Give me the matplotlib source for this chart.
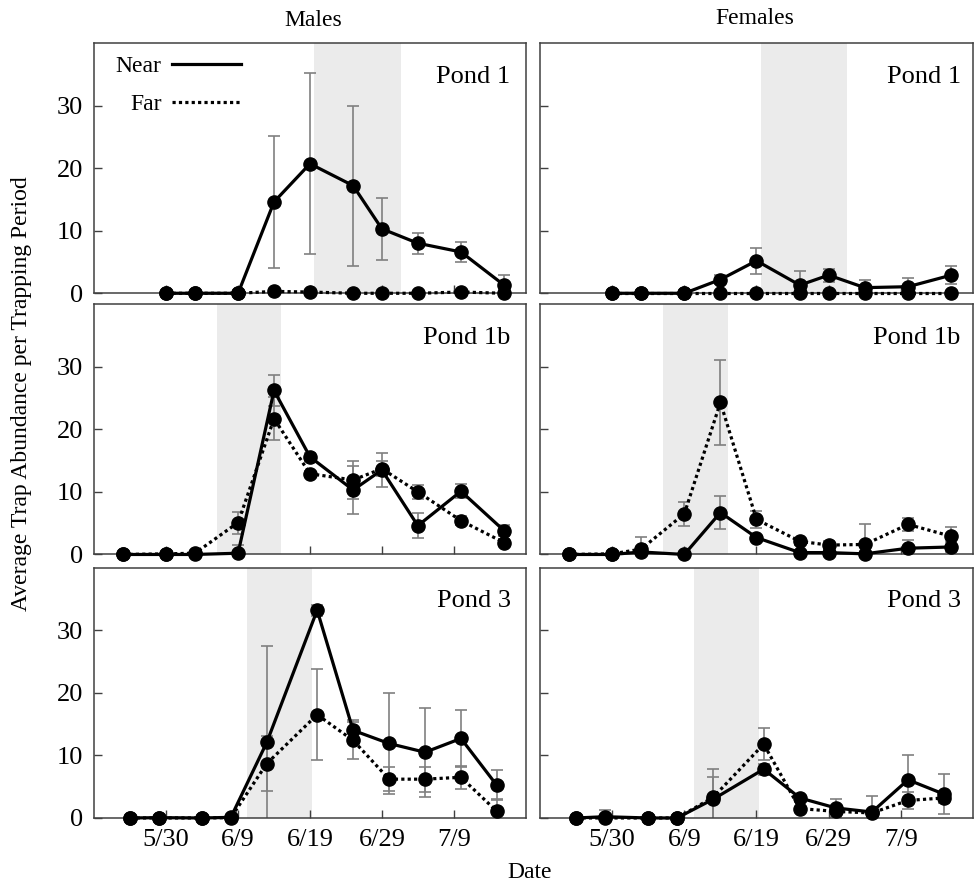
import numpy as np
import matplotlib
matplotlib.use("Agg")
from matplotlib import pyplot as plt

plt.rcParams['font.family'] = ['Liberation Serif', 'DejaVu Serif']

# days relative to 5/30
days_p1 = [0, 4, 10, 15, 20, 26, 30, 35, 41, 47]
days_p1b = [-6, 0, 4, 10, 15, 20, 26, 30, 35, 41, 47]
days_p3 = [-5, -1, 5, 9, 14, 21, 26, 31, 36, 41, 46]

tick_days = [0, 10, 20, 30, 40]
tick_labels = ['5/30', '6/9', '6/19', '6/29', '7/9']

# Males
m_p1_near = [0, 0, 0, 14.6, 20.7, 17.2, 10.3, 8.0, 6.6, 1.3]
m_p1_near_err = [0, 0, 0, 10.5, 14.5, 12.8, 5.0, 1.7, 1.6, 1.7]
m_p1_far = [0, 0, 0, 0.3, 0.2, 0, 0, 0, 0.2, 0]
m_p1_far_err = [0, 0, 0, 0.4, 0, 0, 0, 0, 0.4, 0]

m_p1b_near = [0, 0, 0, 0.2, 26.2, 15.6, 10.3, 13.5, 4.6, 10.1, 3.8]
m_p1b_near_err = [0, 0, 0, 1.3, 2.4, 0.6, 3.9, 2.7, 2.0, 1.1, 0.9]
m_p1b_far = [0, 0.1, 0.2, 5.1, 21.7, 12.9, 11.9, 13.7, 10.0, 5.4, 1.9]
m_p1b_far_err = [0, 0, 0, 1.75, 3.4, 0.5, 3.0, 1.2, 1.1, 0.7, 0.5]

m_p3_near = [0, 0.05, 0, 0.1, 12.1, 33.2, 14.0, 11.9, 10.5, 12.7, 5.2]
m_p3_near_err = [0, 0, 0, 0, 15.4, 0.9, 1.6, 8.0, 7.1, 4.5, 2.4]
m_p3_far = [0, 0, 0, 0.05, 8.7, 16.5, 12.4, 6.2, 6.2, 6.5, 1.05]
m_p3_far_err = [0, 0, 0, 0, 4.4, 7.3, 3.0, 1.9, 2.0, 1.8, 2.0]

# Females
f_p1_near = [0, 0, 0, 2.2, 5.2, 1.3, 2.9, 0.9, 1.05, 2.9]
f_p1_near_err = [0, 0, 0, 0.7, 2.1, 2.3, 1.05, 1.2, 1.4, 1.4]
f_p1_far = [0, 0, 0, 0, 0, 0, 0, 0, 0, 0]
f_p1_far_err = [0, 0, 0, 0, 0, 0, 0, 0, 0, 0]

f_p1b_near = [0, 0, 0.4, 0, 6.7, 2.7, 0.3, 0.3, 0.1, 1.0, 1.2]
f_p1b_near_err = [0, 0, 0, 0, 2.6, 0, 0, 0, 0, 1.3, 0.8]
f_p1b_far = [0, 0.1, 0.85, 6.5, 24.3, 5.6, 2.1, 1.5, 1.6, 4.8, 2.9]
f_p1b_far_err = [0, 0, 2.0, 1.9, 6.8, 1.4, 0.6, 0.6, 3.2, 1.0, 1.5]

f_p3_near = [0, 0.2, 0, 0, 3.0, 7.8, 3.2, 1.6, 0.95, 6.1, 3.8]
f_p3_near_err = [0, 1.0, 0, 0, 3.6, 0.9, 0.5, 1.4, 2.6, 3.9, 3.2]
f_p3_far = [0, 0, 0, 0, 3.3, 11.8, 1.5, 1.05, 0.8, 2.8, 3.2]
f_p3_far_err = [0, 0, 0, 0, 4.6, 2.6, 0, 0, 0, 1.3, 0.8]

shade = {'Pond 1': (20.6, 32.6), 'Pond 1b': (7.0, 16.0), 'Pond 3': (11.3, 20.3)}

panels = [
    ('Pond 1', days_p1, [(m_p1_near, m_p1_near_err, m_p1_far, m_p1_far_err),
                         (f_p1_near, f_p1_near_err, f_p1_far, f_p1_far_err)]),
    ('Pond 1b', days_p1b, [(m_p1b_near, m_p1b_near_err, m_p1b_far, m_p1b_far_err),
                           (f_p1b_near, f_p1b_near_err, f_p1b_far, f_p1b_far_err)]),
    ('Pond 3', days_p3, [(m_p3_near, m_p3_near_err, m_p3_far, m_p3_far_err),
                         (f_p3_near, f_p3_near_err, f_p3_far, f_p3_far_err)]),
]

fig = plt.figure(figsize=(9.76, 8.89), dpi=100)

col_left = [0.0966, 0.5533]
col_w = [0.442, 0.4436]
row_bottom = [0.6701, 0.3763, 0.0799]
row_h = 0.2816

fs = 17
for r, (pond, days, data) in enumerate(panels):
    for c in range(2):
        ax = fig.add_axes([col_left[c], row_bottom[r], col_w[c], row_h])
        near, near_err, far, far_err = data[c]
        x = np.array(days)
        ax.axvspan(shade[pond][0], shade[pond][1], color='#ebebeb', lw=0, zorder=0)
        ax.errorbar(x, far, yerr=far_err, fmt='none', ecolor='#808080',
                    elinewidth=1.2, capsize=4, capthick=1.2, zorder=1)
        ax.errorbar(x, near, yerr=near_err, fmt='none', ecolor='#808080',
                    elinewidth=1.2, capsize=4, capthick=1.2, zorder=1)
        ax.plot(x, far, color='black', ls=(0, (1, 1)), lw=2.3, marker='o',
                ms=9.5, clip_on=False, zorder=3, label='Far')
        ax.plot(x, near, color='black', ls='-', lw=2.3, marker='o',
                ms=9.5, clip_on=False, zorder=4, label='Near')
        ax.set_xlim(-10, 50)
        ax.set_ylim(0, 40)
        ax.set_xticks(tick_days)
        ax.set_yticks([0, 10, 20, 30])
        ax.tick_params(direction='in', length=6, width=1, color='#404040',
                       labelsize=19, pad=8)
        if r == 2:
            ax.set_xticklabels(tick_labels)
        else:
            ax.set_xticklabels([])
        if c == 1:
            ax.set_yticklabels([])
        for sp in ax.spines.values():
            sp.set_color('#404040')
            sp.set_linewidth(1.1)
        ax.text(0.965 if c == 0 else 0.972, 0.865, pond, transform=ax.transAxes,
                ha='right', va='center', fontsize=19)
        if r == 0 and c == 0:
            h, l = ax.get_legend_handles_labels()
            leg = ax.legend(h[::-1], l[::-1], loc='upper left', frameon=False,
                            markerfirst=False, fontsize=17, handlelength=2.9,
                            handletextpad=0.45, labelspacing=0.7,
                            bbox_to_anchor=(0.0, 1.035))
            for line in leg.get_lines():
                line.set_marker('')

fig.text(0.3207, 0.977, 'Males', ha='center', va='center', fontsize=fs)
fig.text(0.7735, 0.979, 'Females', ha='center', va='center', fontsize=fs)
fig.text(0.543, 0.019, 'Date', ha='center', va='center', fontsize=fs)
fig.text(0.022, 0.557, 'Average Trap Abundance per Trapping Period',
         ha='center', va='center', rotation=90, fontsize=fs)

fig.savefig('out.png', dpi=100)
